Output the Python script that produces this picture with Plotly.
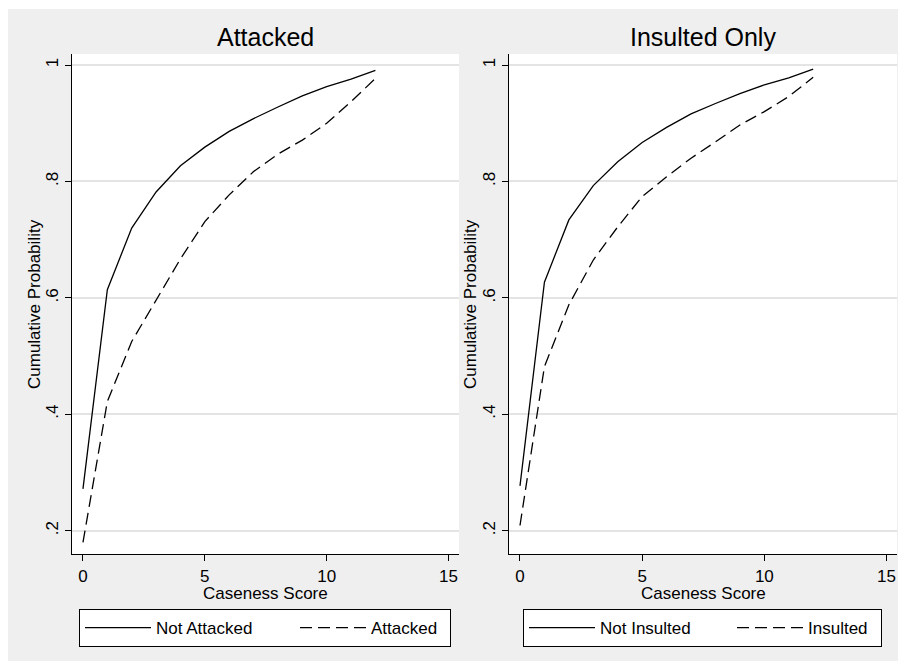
import plotly.graph_objects as go

W, H = 898, 661

score = [0, 1, 2, 3, 4, 5, 6, 7, 8, 9, 10, 11, 12]

not_attacked = [0.272, 0.614, 0.720, 0.782, 0.827, 0.859, 0.886, 0.908, 0.928, 0.947, 0.963, 0.976, 0.991]
attacked = [0.180, 0.422, 0.525, 0.597, 0.667, 0.731, 0.777, 0.817, 0.847, 0.871, 0.900, 0.937, 0.977]

not_insulted = [0.277, 0.627, 0.734, 0.793, 0.834, 0.867, 0.893, 0.916, 0.934, 0.951, 0.966, 0.978, 0.993]
insulted = [0.209, 0.482, 0.588, 0.665, 0.722, 0.774, 0.808, 0.840, 0.868, 0.897, 0.920, 0.946, 0.979]

panel_titles = ["Attacked", "Insulted Only"]
x_title = "Caseness Score"
y_title = "Cumulative Probability"
y_tickvals = [0.2, 0.4, 0.6, 0.8, 1.0]
y_ticktext = [".2", ".4", ".6", ".8", "1"]
x_tickvals = [0, 5, 10, 15]

FONT = "Liberation Sans, Arial, sans-serif"
BG = "#EFEFEF"
GRID = "#E4E4E4"

def px_x(p):
    return p / W

def px_y(p):
    return 1 - p / H

fig = go.Figure()

line_solid = dict(color="black", width=1.3)
line_dash = dict(color="black", width=1.3, dash="12px,6px")

fig.add_trace(go.Scatter(x=score, y=not_attacked, mode="lines", name="Not Attacked",
                         line=line_solid, xaxis="x", yaxis="y", legend="legend", legendwidth=134))
fig.add_trace(go.Scatter(x=score, y=attacked, mode="lines", name="Attacked",
                         line=line_dash, xaxis="x", yaxis="y", legend="legend", legendwidth=74))
fig.add_trace(go.Scatter(x=score, y=not_insulted, mode="lines", name="Not Insulted",
                         line=line_solid, xaxis="x2", yaxis="y2", legend="legend2", legendwidth=127))
fig.add_trace(go.Scatter(x=score, y=insulted, mode="lines", name="Insulted",
                         line=line_dash, xaxis="x2", yaxis="y2", legend="legend2", legendwidth=68))

xrange = [-0.45, 15.43]
yrange = [0.16, 1.019]
ydom = [px_y(554), px_y(54)]

common_x = dict(range=xrange, tickvals=x_tickvals, ticks="outside", ticklen=6, tickwidth=1,
                tickcolor="black", showline=True, linecolor="black", linewidth=1.3,
                showgrid=False, zeroline=False, tickfont=dict(size=17, color="black", family=FONT))
common_y = dict(range=yrange, tickvals=y_tickvals, ticktext=y_ticktext, ticks="outside", ticklen=6,
                tickwidth=1, tickcolor="black", showline=True, linecolor="black", linewidth=1.3,
                showgrid=True, gridcolor=GRID, gridwidth=1.5, zeroline=False, tickangle=-90,
                tickfont=dict(size=17, color="black", family=FONT))

left_dom = [px_x(72), px_x(459)]
right_dom = [px_x(509), px_x(897)]

legend_common = dict(orientation="h", xanchor="left", yanchor="top", bgcolor="white",
                     bordercolor="black", borderwidth=1, font=dict(size=17, color="black", family=FONT),
                     itemwidth=66, tracegroupgap=0)

fig.update_layout(
    width=W, height=H,
    margin=dict(l=0, r=0, t=0, b=0),
    paper_bgcolor=BG, plot_bgcolor="white",
    font=dict(family=FONT, color="black"),
    xaxis=dict(domain=left_dom, anchor="y", **common_x),
    yaxis=dict(domain=ydom, anchor="x", **common_y),
    xaxis2=dict(domain=right_dom, anchor="y2", **common_x),
    yaxis2=dict(domain=ydom, anchor="x2", **common_y),
    legend=dict(x=px_x(79), y=px_y(609), **legend_common),
    legend2=dict(x=px_x(523), y=px_y(609), **legend_common),
    shapes=[
        dict(type="rect", xref="paper", yref="paper", x0=0, x1=1, y0=px_y(9), y1=1,
             fillcolor="white", line=dict(width=0), layer="below"),
        dict(type="rect", xref="paper", yref="paper", x0=0, x1=px_x(8), y0=0, y1=1,
             fillcolor="white", line=dict(width=0), layer="below"),
    ],
)

annots = []
for dom, title in zip([left_dom, right_dom], panel_titles):
    cx = (dom[0] + dom[1]) / 2
    annots.append(dict(text=title, x=cx, y=px_y(37), xref="paper", yref="paper",
                       xanchor="center", yanchor="middle", showarrow=False,
                       font=dict(size=25, color="black", family=FONT)))
    annots.append(dict(text=x_title, x=cx, y=px_y(593), xref="paper", yref="paper",
                       xanchor="center", yanchor="middle", showarrow=False,
                       font=dict(size=17, color="black", family=FONT)))
for xp in [34, 470]:
    annots.append(dict(text=y_title, x=px_x(xp), y=(ydom[0] + ydom[1]) / 2, xref="paper", yref="paper",
                       xanchor="center", yanchor="middle", showarrow=False, textangle=-90,
                       font=dict(size=17, color="black", family=FONT)))
fig.update_layout(annotations=annots)

fig.write_html("out.html", config={"displayModeBar": False},
               post_script="document.body.style.margin='0px';")
